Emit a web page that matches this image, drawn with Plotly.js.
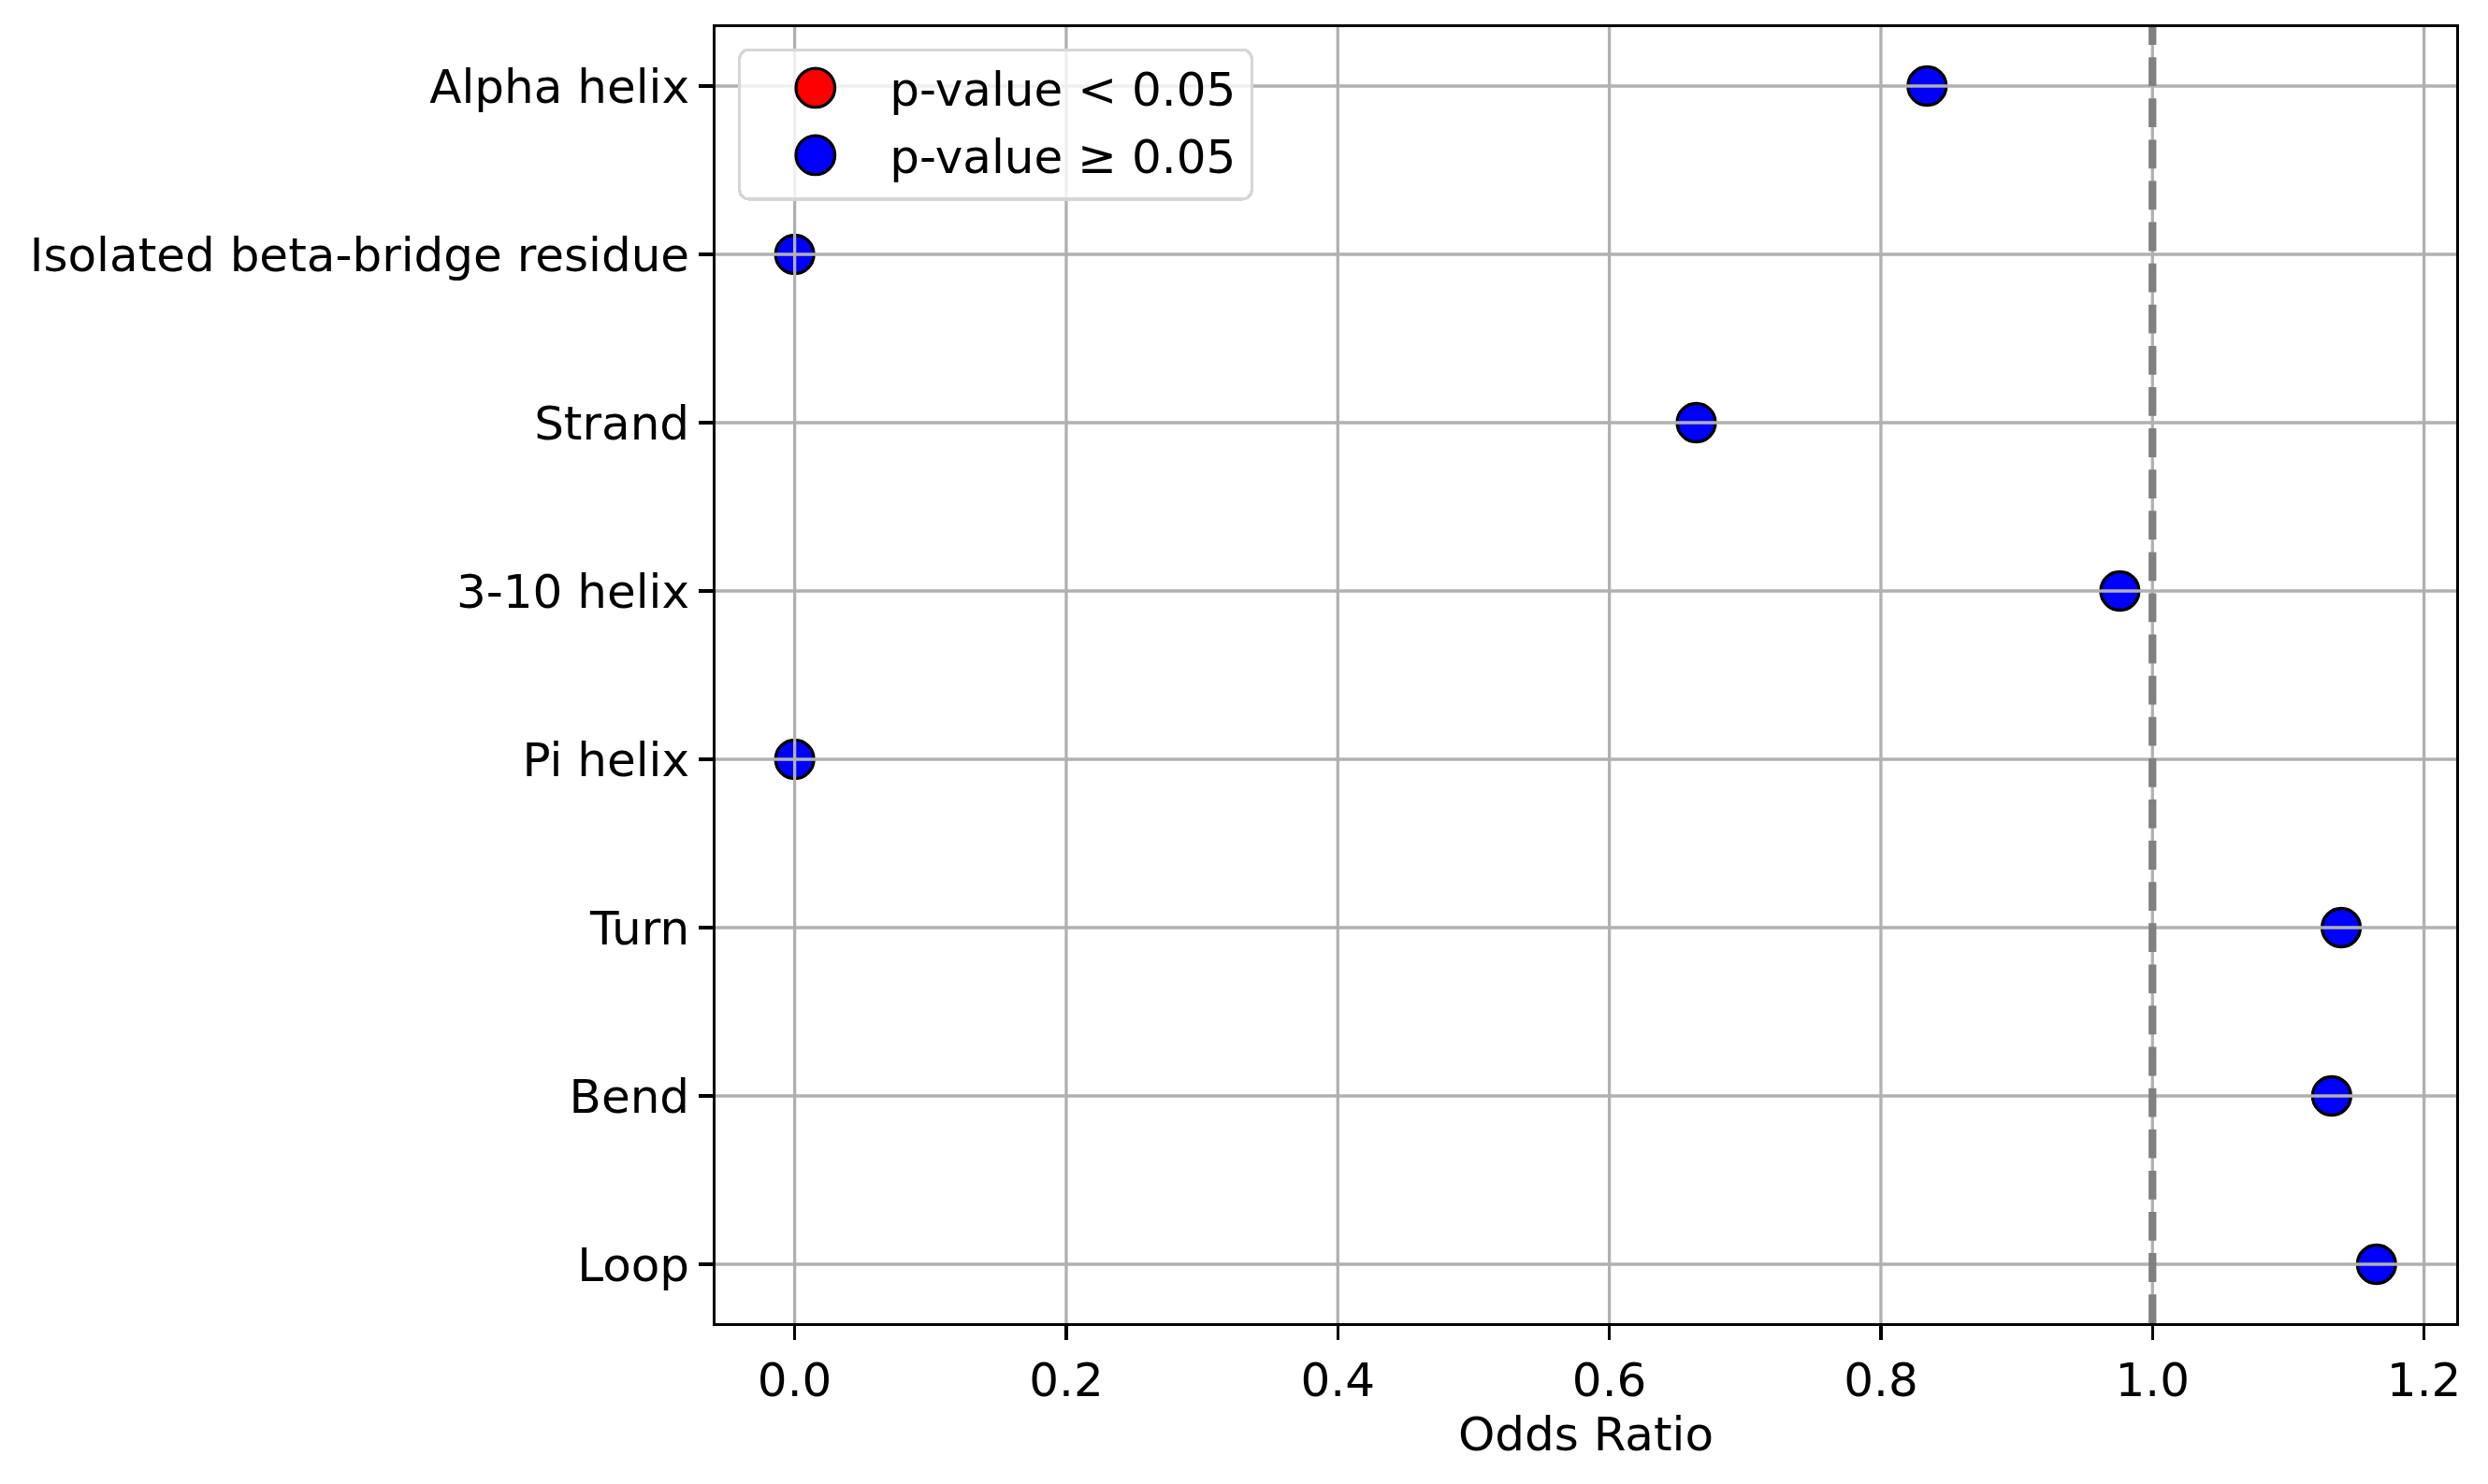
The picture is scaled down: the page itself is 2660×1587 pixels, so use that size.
<!DOCTYPE html>
<html><head><meta charset="utf-8">
<script src="https://cdn.plot.ly/plotly-3.0.1.min.js"></script>
<style>html,body{margin:0;padding:0;background:#fff}</style>
</head><body>
<div id="chart" style="width:2660px;height:1587px"></div>
<script>
const categories = ["Alpha helix", "Isolated beta-bridge residue", "Strand", "3-10 helix", "Pi helix", "Turn", "Bend", "Loop"];
const oddsRatios = [0.834, 0.0, 0.664, 0.976, 0.0, 1.139, 1.132, 1.165];
const significant = [false, false, false, false, false, false, false, false];
const xTickVals = [0, 0.2, 0.4, 0.6, 0.8, 1.0, 1.2];
const xTickText = ["0.0", "0.2", "0.4", "0.6", "0.8", "1.0", "1.2"];
const referenceLine = 1.0;
const legendLabels = ["p-value < 0.05", "p-value \u2265 0.05"];
const xAxisTitle = "Odds Ratio";

const FONT = "DejaVu Sans";
function pick(flag) {
  const xs = [], ys = [];
  oddsRatios.forEach((v, i) => { if (significant[i] === flag) { xs.push(v); ys.push(categories[i]); } });
  if (xs.length === 0) { xs.push(null); ys.push(null); }
  return {x: xs, y: ys};
}
const sig = pick(true), nonsig = pick(false);
const markerBase = {size: 41, line: {color: "#000000", width: 3.3}};
const data = [
  {type: "scatter", mode: "markers", x: sig.x, y: sig.y, name: legendLabels[0], legendgroup: "a",
   marker: Object.assign({color: "#ff0000"}, markerBase)},
  {type: "scatter", mode: "markers", x: nonsig.x, y: nonsig.y, name: legendLabels[1], legendgroup: "b",
   marker: Object.assign({color: "#0000ff"}, markerBase)}
];

const shapes = [];
xTickVals.forEach(v => shapes.push({type: "line", xref: "x", yref: "paper", x0: v, x1: v, y0: 0, y1: 1,
  layer: "above", line: {color: "#b0b0b0", width: 3.3}}));
categories.forEach(c => shapes.push({type: "line", xref: "paper", yref: "y", x0: 0, x1: 1, y0: c, y1: c,
  layer: "above", line: {color: "#b0b0b0", width: 3.3}}));
shapes.push({type: "line", xref: "x", yref: "paper", x0: referenceLine, x1: referenceLine, y0: 0, y1: 1,
  layer: "above", line: {color: "#808080", width: 8.3, dash: "30.8px,13.3px"}});

const axisCommon = {
  showgrid: false, zeroline: false, showline: true, mirror: true, linecolor: "#000000", linewidth: 3.3,
  ticks: "outside", ticklen: 14.6, tickwidth: 3.3, tickcolor: "#000000",
  tickfont: {family: FONT, size: 50, color: "#000000"}, automargin: false
};
const layout = {
  width: 2660, height: 1587,
  paper_bgcolor: "#ffffff", plot_bgcolor: "#ffffff",
  margin: {l: 765, r: 34, t: 29, b: 172},
  font: {family: FONT, size: 50, color: "#000000"},
  xaxis: Object.assign({}, axisCommon, {
    range: [-0.0583, 1.2237], tickmode: "array", tickvals: xTickVals, ticktext: xTickText,
    title: {text: xAxisTitle, font: {family: FONT, size: 50, color: "#000000"}, standoff: 3}
  }),
  yaxis: Object.assign({}, axisCommon, {
    type: "category", categoryorder: "array", categoryarray: categories, range: [7.35, -0.35]
  }),
  shapes: shapes,
  showlegend: true,
  legend: {
    x: 0.0129, y: 0.9837, xanchor: "left", yanchor: "top",
    bgcolor: "rgba(255,255,255,0.8)", bordercolor: "#d6d6d6", borderwidth: 3.3,
    font: {family: FONT, size: 50, color: "#000000"},
    itemwidth: 149, tracegroupgap: 4, traceorder: "grouped"
  }
};

Plotly.newPlot("chart", data, layout, {staticPlot: true, displayModeBar: false}).then(gd => {
  const r = 20.8;
  gd.querySelectorAll(".legend path.scatterpts").forEach(p => {
    p.setAttribute("d", `M${r},0A${r},${r} 0 1,1 0,-${r}A${r},${r} 0 0,1 ${r},0Z`);
    p.style.strokeWidth = "3.3px";
  });
  const bg = gd.querySelector(".legend rect.bg");
  if (bg) {
    bg.setAttribute("rx", 10); bg.setAttribute("ry", 10);
    const w = parseFloat(bg.getAttribute("width"));
    if (!isNaN(w)) bg.setAttribute("width", w + 10);
    const h = parseFloat(bg.getAttribute("height"));
    if (!isNaN(h)) bg.setAttribute("height", h + 6);
  }
});
</script>
</body></html>
